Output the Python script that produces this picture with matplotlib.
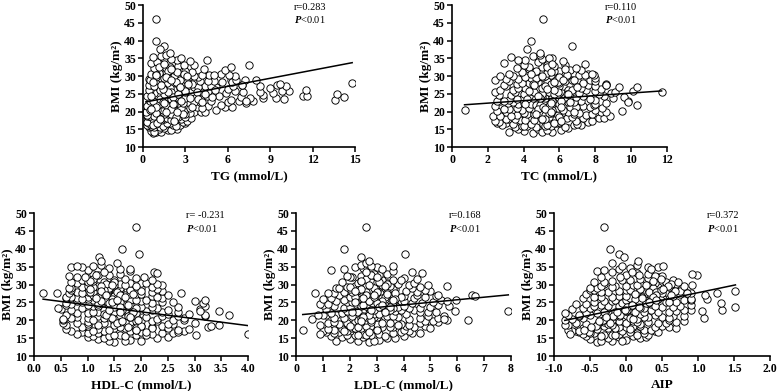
import numpy as np
import matplotlib
matplotlib.use("Agg")
import matplotlib.pyplot as plt
from matplotlib.ticker import FormatStrFormatter

plt.rcParams['font.family'] = ['Liberation Serif', 'DejaVu Serif']
plt.rcParams['font.weight'] = 'bold'
plt.rcParams['axes.labelweight'] = 'bold'
plt.rcParams['axes.unicode_minus'] = False
plt.rcParams['mathtext.fontset'] = 'custom'
plt.rcParams['mathtext.rm'] = 'Liberation Serif'
plt.rcParams['mathtext.it'] = 'Liberation Serif:italic'

# BMI des sujets (meme cohorte pour les 5 panneaux)
bmi = [14.0, 14.2, 14.1, 14.5, 14.8, 15.0, 15.2, 14.3, 15.4, 14.9,
       15.6, 16.0, 16.3, 15.8, 16.7, 16.1, 15.5, 16.9, 16.4, 15.9,
       16.2, 16.8, 15.7, 16.5, 17.0, 16.6, 15.9, 16.0, 16.4, 16.9,
       17.1, 17.5, 17.9, 18.2, 17.3, 18.4, 17.7, 18.0, 17.2, 18.3,
       17.6, 18.1, 17.4, 18.5, 17.8, 17.0, 18.2, 17.5, 18.4, 17.9,
       18.6, 19.0, 19.4, 19.8, 18.9, 19.2, 19.6, 18.7, 19.9, 19.3,
       19.1, 18.8, 19.5, 19.7, 20.0, 18.6, 19.2, 19.9, 19.0, 19.4,
       20.1, 20.5, 20.9, 21.3, 20.3, 20.7, 21.1, 21.5, 20.2, 20.8,
       20.4, 21.0, 21.4, 20.6, 21.2, 20.0, 20.9, 21.3, 20.5, 21.1,
       21.6, 22.0, 22.4, 22.8, 21.8, 22.2, 22.6, 23.0, 21.7, 22.5,
       22.1, 22.9, 21.9, 22.3, 22.7, 21.5, 22.6, 23.0, 22.2, 22.4,
       23.1, 23.5, 23.9, 24.3, 23.3, 23.7, 24.1, 24.5, 23.2, 23.8,
       23.4, 24.0, 24.4, 23.6, 24.2, 23.0, 23.9, 24.3, 23.5, 24.1,
       24.6, 25.0, 25.4, 25.8, 24.8, 25.2, 25.6, 26.0, 24.7, 25.3,
       24.9, 25.5, 25.9, 25.1, 25.7, 24.5, 25.4, 25.8, 25.0, 25.6,
       26.1, 26.5, 26.9, 27.3, 26.3, 26.7, 27.1, 27.5, 26.2, 26.8,
       26.4, 27.0, 27.4, 26.6, 27.2, 26.0, 26.9, 27.3, 26.5, 27.1,
       27.6, 28.0, 28.4, 28.8, 27.8, 28.2, 28.6, 29.0, 27.7, 28.3,
       27.9, 28.5, 28.9, 28.1, 28.7, 27.5, 28.4, 28.8, 28.0, 28.6,
       29.1, 29.5, 29.9, 30.3, 29.3, 29.7, 30.1, 30.5, 29.2, 29.8,
       29.4, 30.0, 30.4, 29.6, 30.2, 29.0, 29.9, 30.3, 29.5, 30.1,
       30.6, 31.0, 31.4, 31.8, 30.8, 31.2, 31.6, 32.0, 30.7, 31.3,
       32.2, 32.6, 33.0, 33.4, 32.4, 32.8, 33.2, 33.8, 32.3, 33.0,
       34.0, 34.5, 35.0, 35.3, 34.2, 34.8, 35.5, 36.0, 34.4, 35.2,
       46.0, 40.0, 38.4, 37.6, 36.5, 20.3, 27.5, 22.7, 25.5, 16.2,
       # sujets supplementaires (centre du nuage)
       19.5, 21.8, 24.2, 26.6, 29.0, 31.5, 17.8, 23.0, 25.4, 27.8,
       20.6, 23.0, 25.4, 27.8, 30.2, 32.6, 18.4, 21.2, 26.0, 28.4,
       16.8, 19.2, 22.4, 24.8, 27.2, 29.6, 31.0, 20.0, 23.6, 26.2,
       18.0, 21.4, 23.8, 26.4, 28.8, 30.6, 33.4, 22.2, 25.0, 27.4,
       17.4, 20.8, 22.8, 25.8, 28.2, 30.0, 32.0, 19.8, 24.4, 27.0]

tg = [0.7, 0.9, 1.3, 0.6, 1.8, 2.4, 1.1, 0.8, 1.5, 2.0,
      0.4, 1.0, 2.6, 0.5, 1.6, 2.1, 0.8, 3.0, 1.3, 0.6,
      0.3, 1.9, 1.2, 0.9, 2.8, 0.5, 1.4, 2.3, 0.7, 1.7,
      0.3, 0.8, 1.5, 2.2, 3.1, 0.6, 1.1, 2.7, 0.4, 1.9,
      1.3, 3.4, 0.5, 2.5, 0.9, 0.3, 1.7, 2.0, 3.0, 0.7,
      0.4, 1.2, 2.3, 3.6, 0.7, 1.8, 2.9, 0.3, 4.1, 1.5,
      1.0, 0.5, 2.6, 3.3, 4.4, 0.8, 2.0, 1.4, 0.3, 3.0,
      0.3, 1.1, 2.4, 3.8, 5.2, 0.6, 1.7, 4.6, 2.9, 0.9,
      1.4, 3.3, 5.8, 0.5, 2.1, 0.2, 4.2, 6.3, 1.0, 2.7,
      0.4, 1.3, 2.5, 4.0, 5.5, 0.8, 3.2, 6.8, 1.9, 7.3,
      2.2, 4.8, 0.6, 1.6, 3.6, 0.3, 6.0, 7.8, 1.1, 2.8,
      0.5, 1.5, 3.0, 4.5, 6.2, 9.4, 2.3, 11.3, 13.6, 7.6,
      1.2, 14.2, 5.4, 2.0, 6.9, 7.3, 8.5, 11.6, 10.0, 4.9,
      0.6, 1.8, 3.4, 4.6, 13.75, 9.2, 7.1, 11.5, 8.5, 5.9,
      2.4, 4.2, 10.3, 0.8, 6.5, 0.3, 3.0, 9.8, 1.5, 8.3,
      0.5, 1.7, 2.9, 4.4, 6.0, 9.0, 10.1, 7.0, 2.2, 3.6,
      1.2, 5.2, 9.5, 2.6, 8.3, 0.4, 3.9, 6.4, 1.9, 4.8,
      0.6, 14.8, 2.8, 6.2, 3.5, 0.9, 5.0, 8.0, 9.7, 6.3,
      1.1, 4.0, 6.6, 2.4, 3.1, 0.4, 5.6, 7.2, 1.7, 4.6,
      0.7, 1.9, 3.3, 4.7, 1.2, 2.5, 6.5, 5.5, 0.4, 3.9,
      1.5, 2.9, 5.0, 0.9, 4.2, 0.5, 2.2, 6.1, 1.8, 3.6,
      0.6, 1.6, 2.7, 5.8, 1.1, 3.5, 2.2, 4.3, 0.9, 3.0,
      0.8, 1.9, 7.5, 1.3, 6.2, 2.5, 3.6, 0.6, 1.6, 2.9,
      1.0, 2.4, 1.5, 0.7, 3.3, 2.0, 1.3, 1.6, 4.5, 2.7,
      0.9, 0.9, 1.5, 1.2, 1.9, 0.5, 7.0, 1.4, 2.0, 0.7,
      0.9, 1.6, 2.1, 1.4, 2.6, 1.8, 1.2, 2.7, 3.8, 1.0,
      2.0, 0.7, 1.8, 3.2, 0.9, 1.1, 2.3, 3.5, 1.2, 2.3,
      1.0, 2.8, 1.5, 2.5, 0.8, 1.6, 2.4, 1.6, 3.9, 5.1,
      1.2, 0.9, 3.3, 1.4, 2.0, 2.9, 1.5, 2.1, 4.4, 1.3,
      2.2, 0.6, 4.2, 3.0, 0.7, 3.1, 2.0, 2.4, 0.6, 2.6]

tc = [4.5, 3.2, 5.6, 4.0, 6.1, 4.8, 3.7, 5.0, 6.5, 5.3,
      3.5, 4.2, 6.8, 5.5, 3.0, 7.2, 4.7, 6.0, 5.1, 3.9,
      2.8, 5.8, 6.3, 4.4, 7.6, 3.4, 5.2, 4.0, 7.0, 2.5,
      2.6, 3.8, 5.0, 6.4, 7.8, 4.3, 5.7, 3.1, 6.9, 8.2,
      4.6, 7.3, 2.4, 5.4, 3.5, 6.0, 8.5, 4.1, 6.7, 3.0,
      2.3, 3.6, 4.9, 6.2, 7.5, 4.2, 5.5, 8.8, 3.0, 6.8,
      5.9, 2.7, 4.0, 7.1, 8.3, 3.3, 4.6, 6.5, 5.2, 7.8,
      2.5, 3.9, 5.3, 6.6, 8.0, 4.5, 5.9, 7.3, 9.5, 3.2,
      6.2, 4.3, 7.7, 2.9, 5.0, 8.6, 3.6, 6.9, 5.6, 8.4,
      2.4, 3.7, 5.1, 6.5, 7.9, 4.4, 5.8, 7.2, 10.3, 3.1,
      6.0, 9.8, 4.7, 8.6, 3.4, 5.4, 6.8, 2.7, 8.0, 4.0,
      2.5, 3.9, 5.2, 6.6, 8.0, 4.5, 5.9, 7.3, 3.2, 9.0,
      6.2, 9.6, 4.3, 7.7, 5.0, 2.9, 5.6, 8.5, 3.6, 6.9,
      2.6, 4.0, 5.4, 6.8, 8.2, 4.7, 6.1, 7.5, 3.3, 8.9,
      5.7, 3.5, 10.1, 7.1, 4.4, 6.4, 2.4, 8.0, 5.0, 9.1,
      2.7, 4.1, 5.5, 6.9, 8.3, 4.8, 6.2, 7.6, 3.4, 9.3,
      5.8, 10.3, 4.4, 7.2, 3.0, 6.5, 5.1, 8.0, 3.7, 6.0,
      2.9, 4.3, 5.7, 7.0, 8.6, 5.0, 6.3, 7.7, 3.6, 4.8,
      6.0, 3.2, 2.4, 7.3, 5.3, 8.6, 4.6, 6.7, 3.9, 8.0,
      3.0, 4.4, 5.8, 7.1, 8.0, 5.1, 6.4, 7.6, 3.7, 4.8,
      6.0, 3.4, 7.4, 4.1, 5.5, 6.8, 2.7, 7.9, 4.7, 5.2,
      3.2, 4.6, 6.0, 7.2, 5.3, 3.9, 6.6, 4.3, 7.8, 5.7,
      3.6, 5.0, 6.3, 7.4, 4.3, 5.7, 4.0, 2.9, 6.9, 5.3,
      4.8, 4.1, 5.6, 3.3, 6.2, 5.0, 4.5, 4.9, 3.7, 5.4,
      5.1, 4.4, 6.7, 4.2, 4.9, 0.7, 8.6, 9.8, 11.7, 5.3,
      5.4, 4.9, 6.3, 5.0, 5.8, 4.7, 5.2, 6.1, 4.6, 5.5,
      4.8, 5.6, 5.9, 4.5, 6.4, 5.3, 6.0, 5.1, 6.7, 5.9,
      5.7, 4.7, 5.5, 6.4, 5.2, 6.0, 5.5, 6.8, 4.2, 5.7,
      5.0, 6.1, 4.9, 5.3, 6.2, 4.4, 5.6, 4.1, 6.5, 4.6,
      6.1, 5.2, 6.6, 4.3, 5.7, 5.0, 6.3, 5.5, 4.8, 7.0]

hdl = [1.5, 1.4, 2.0, 1.8, 1.2, 2.3, 1.0, 1.7, 2.5, 1.3,
       1.1, 1.6, 2.6, 1.9, 0.9, 2.2, 1.4, 2.8, 1.2, 3.02,
       0.8, 2.0, 1.7, 2.4, 1.3, 2.7, 2.1, 1.5, 1.0, 1.8,
       0.7, 1.2, 1.7, 2.2, 2.7, 1.0, 1.5, 3.25, 1.9, 2.4,
       2.9, 0.9, 1.4, 2.0, 2.5, 1.1, 1.6, 0.6, 3.3, 2.2,
       0.6, 1.0, 1.5, 2.0, 2.6, 1.3, 1.8, 3.45, 2.3, 3.0,
       0.8, 1.2, 1.7, 2.2, 2.8, 1.5, 0.55, 1.9, 2.5, 1.0,
       0.55, 1.0, 1.4, 1.9, 2.3, 2.8, 1.2, 1.7, 2.6, 0.8,
       1.5, 2.1, 3.65, 0.7, 2.4, 1.1, 1.8, 2.7, 1.3, 3.2,
       0.6, 1.0, 1.5, 2.0, 2.5, 1.2, 1.7, 2.2, 2.9, 3.45,
       0.8, 1.3, 1.9, 2.4, 1.6, 3.2, 2.1, 0.7, 1.1, 2.7,
       0.5, 0.9, 1.4, 1.8, 2.3, 2.7, 1.1, 1.6, 3.1, 2.0,
       0.45, 1.2, 1.7, 2.2, 0.6, 2.5, 1.5, 1.0, 1.9, 3.2,
       0.7, 0.9, 1.3, 1.8, 2.2, 2.6, 1.1, 1.6, 3.15, 2.0,
       0.6, 1.4, 1.0, 2.4, 1.9, 1.2, 0.8, 2.1, 1.6, 3.2,
       0.6, 1.0, 1.5, 1.9, 2.4, 1.2, 1.7, 2.75, 0.8, 2.2,
       0.7, 1.3, 1.8, 2.3, 1.1, 0.9, 1.5, 2.0, 0.6, 2.5,
       0.65, 1.0, 1.4, 1.8, 2.2, 1.2, 1.6, 2.0, 0.43, 2.4,
       0.8, 1.2, 1.6, 2.0, 1.4, 0.9, 1.8, 2.3, 1.1, 0.7,
       0.7, 1.0, 1.4, 1.8, 2.2, 1.2, 1.6, 2.0, 0.9, 2.4,
       1.1, 1.5, 0.8, 1.9, 1.3, 0.65, 1.7, 2.1, 1.0, 2.3,
       0.7, 1.1, 1.5, 1.9, 1.3, 0.9, 1.7, 2.05, 1.0, 2.2,
       0.8, 1.2, 1.6, 2.25, 1.0, 1.4, 2.3, 1.8, 0.65, 1.1,
       1.0, 1.4, 0.7, 1.1, 1.6, 0.9, 1.25, 1.55, 1.8, 0.8,
       1.9, 1.65, 1.97, 1.22, 1.25, 0.55, 0.17, 3.1, 3.0, 4.0,
       1.6, 1.3, 1.5, 1.2, 1.4, 1.1, 1.9, 1.7, 1.35, 1.55,
       1.45, 1.65, 1.25, 1.05, 1.35, 1.15, 2.0, 1.75, 1.45, 1.3,
       2.1, 1.55, 1.85, 1.4, 1.6, 1.25, 1.05, 1.95, 1.5, 1.15,
       1.75, 1.35, 1.6, 1.7, 1.05, 1.5, 1.3, 1.6, 1.45, 1.85,
       1.9, 1.8, 1.4, 1.55, 1.25, 1.45, 0.95, 1.65, 1.75, 1.35]

ldl = [2.7, 1.5, 2.3, 3.1, 2.0, 3.4, 1.7, 2.9, 2.5, 3.7,
       1.3, 2.2, 3.6, 2.8, 1.6, 3.1, 4.0, 2.0, 4.3, 1.9,
       2.5, 1.1, 3.3, 4.6, 1.9, 3.9, 2.3, 2.6, 1.4, 4.2,
       1.0, 1.7, 2.4, 3.2, 4.0, 4.8, 2.1, 3.6, 1.4, 2.8,
       3.0, 4.4, 0.25, 2.6, 5.0, 1.8, 3.5, 1.2, 4.1, 2.2,
       0.9, 1.6, 2.4, 3.1, 3.9, 4.6, 5.3, 2.0, 2.8, 1.2,
       3.5, 4.2, 1.4, 5.1, 2.6, 3.8, 1.9, 4.8, 3.0, 2.2,
       6.4, 1.8, 2.6, 3.4, 4.2, 5.3, 5.5, 1.1, 2.3, 3.0,
       0.6, 3.8, 1.5, 4.6, 2.1, 5.6, 2.9, 3.6, 1.4, 4.9,
       1.0, 1.7, 2.5, 3.3, 4.1, 4.9, 5.9, 2.1, 2.9, 3.7,
       1.3, 4.4, 2.7, 5.2, 3.4, 0.8, 1.9, 3.9, 4.6, 2.3,
       1.1, 1.8, 2.6, 3.4, 4.2, 5.0, 5.7, 2.2, 3.0, 3.8,
       4.6, 1.4, 3.2, 2.0, 5.3, 2.8, 4.0, 1.0, 3.6, 2.4,
       1.2, 1.9, 2.7, 3.5, 4.3, 5.1, 5.95, 2.3, 3.1, 3.9,
       4.7, 1.5, 3.3, 2.1, 5.4, 0.9, 4.0, 2.5, 3.6, 1.8,
       1.3, 2.0, 2.8, 3.6, 4.4, 5.2, 6.55, 2.4, 3.2, 4.0,
       4.8, 1.6, 3.4, 2.2, 5.3, 1.0, 6.65, 2.6, 3.9, 4.5,
       1.4, 2.1, 2.9, 3.7, 4.5, 5.0, 2.5, 3.3, 0.7, 4.1,
       1.8, 3.0, 4.3, 2.4, 3.6, 1.2, 4.8, 2.0, 3.4, 2.7,
       1.5, 2.2, 3.0, 3.8, 4.6, 5.6, 2.6, 3.4, 1.9, 4.2,
       2.0, 3.2, 4.4, 2.6, 3.8, 1.6, 4.9, 2.3, 3.5, 2.9,
       1.7, 2.4, 3.2, 4.0, 2.8, 3.6, 4.5, 2.1, 3.0, 3.9,
       2.0, 2.7, 3.4, 4.3, 2.4, 3.1, 4.7, 3.6, 1.9, 2.9,
       1.3, 2.5, 3.0, 3.6, 1.8, 2.2, 2.4, 2.6, 3.2, 2.8,
       2.6, 1.8, 4.05, 2.4, 2.7, 5.5, 3.7, 7.9, 5.6, 0.9,
       2.8, 3.1, 2.5, 3.3, 2.9, 2.6, 2.2, 3.5, 2.7, 3.0,
       2.4, 2.9, 3.2, 2.6, 3.4, 2.8, 2.0, 2.5, 3.7, 2.3,
       2.7, 3.2, 2.1, 3.0, 2.6, 3.3, 2.4, 2.8, 3.1, 2.5,
       2.3, 2.7, 3.5, 2.9, 2.4, 3.1, 2.6, 3.3, 2.2, 3.4,
       3.0, 2.5, 2.8, 3.6, 2.2, 2.7, 3.0, 2.4, 3.2, 2.9]

aip = [-0.4, -0.2, -0.35, 0.0, -0.5, 0.2, -0.1, -0.05, 0.28, -0.25,
       -0.55, -0.3, 0.15, 0.3, -0.65, -0.1, 0.1, 0.4, -0.45, -0.2,
       -0.6, 0.05, -0.35, 0.25, -0.7, 0.45, -0.15, 0.15, -0.5, -0.05,
       -0.75, -0.5, -0.25, 0.0, 0.25, 0.5, -0.6, -0.1, 0.35, 0.1,
       -0.4, 0.6, -0.8, 0.2, -0.15, -0.65, 0.4, 0.05, -0.3, 0.7,
       -0.8, -0.55, -0.3, -0.05, 0.2, 0.45, 0.7, -0.2, 0.1, 0.55,
       -0.7, -0.4, 0.3, -0.1, 0.6, -0.85, 0.0, 0.8, -0.25, 0.15,
       -0.85, -0.6, -0.35, -0.1, 0.15, 1.08, 0.65, 0.4, -0.2, 0.3,
       -0.75, 0.5, -0.5, 0.05, 0.8, -0.3, 0.25, -0.15, 0.6, -0.65,
       -0.8, -0.55, -0.3, -0.05, 0.2, 0.45, 0.7, 0.9, -0.2, 0.1,
       -0.85, 0.35, -0.4, 0.6, 1.05, -0.65, 0.0, 0.8, -0.15, 0.25,
       -0.75, -0.5, -0.25, 0.0, 0.25, 0.5, 0.75, 0.35, -0.1, 1.52,
       -0.6, 0.4, -0.35, 0.65, 0.1, 1.33, -0.1, 0.9, 0.2, -0.45,
       -0.7, -0.45, -0.2, 0.05, 0.3, 0.55, 0.8, 1.12, -0.05, 0.2,
       1.32, -0.3, 0.45, 0.7, 0.0, -0.55, 0.3, -0.15, 0.6, 0.9,
       -0.6, -0.35, -0.1, 0.15, 0.4, 0.65, 1.1, 0.85, 0.05, 0.5,
       -0.45, 0.25, 0.75, -0.2, 0.55, 0.9, 0.0, -0.55, 0.35, 0.6,
       1.27, -0.25, 0.0, 0.25, 0.5, 0.75, -0.5, 0.1, 0.9, 1.52,
       -0.35, 0.4, 0.65, -0.1, 0.2, 0.85, -0.45, 0.3, 0.55, 0.05,
       -0.4, -0.15, 0.1, 0.35, 0.6, 0.8, -0.3, 0.2, 0.45, 0.92,
       -0.2, 0.3, 0.55, 0.0, 0.7, -0.5, 0.15, 0.4, -0.35, 0.6,
       -0.45, -0.2, 0.05, 0.3, 0.55, -0.05, 0.2, 0.45, -0.3, 0.65,
       -0.35, 0.0, 0.3, -0.2, 0.5, 0.98, 0.15, -0.4, 0.4, 0.92,
       -0.3, 0.05, 0.45, 0.52, -0.1, 0.3, 0.15, -0.2, 0.35, -0.05,
       -0.3, -0.22, -0.1, -0.03, 0.16, 0.1, 0.5, 0.0, 0.3, -0.78,
       -0.38, -0.12, 0.08, 0.22, 0.38, 0.48, -0.48, -0.02, 0.18, 0.32,
       -0.28, 0.02, 0.28, 0.42, 0.62, 0.18, -0.42, -0.18, 0.12, 0.48,
       -0.52, -0.22, 0.12, 0.28, 0.42, 0.58, 0.38, -0.32, 0.02, 0.22,
       -0.48, -0.08, 0.18, 0.38, 0.52, 0.72, 0.08, -0.12, 0.32, 0.12,
       -0.58, -0.28, -0.02, 0.42, 0.68, 0.28, -0.08, -0.38, 0.08, 0.62]

# droites de regression
slopes = [0.757, 0.3545, -1.932, 0.719, 4.19]
intercepts = [22.55, 21.65, 26.23, 21.42, 23.52]
r_labels = ["r=0.283", "r=0.110", "r= -0.231", "r=0.168", "r=0.372"]
x_labels = ["TG (mmol/L)", "TC (mmol/L)", "HDL-C (mmol/L)", "LDL-C (mmol/L)", "AIP"]
x_ticks = [np.arange(0, 16, 3), np.arange(0, 13, 2), np.arange(0, 4.01, 0.5),
           np.arange(0, 9, 1), np.arange(-1, 2.01, 0.5)]
x_series = [tg, tc, hdl, ldl, aip]

# position des axes (fraction de la figure)
rects = [[0.1838, 0.6240, 0.2725, 0.3632],
         [0.5810, 0.6240, 0.2763, 0.3632],
         [0.0437, 0.0895, 0.2751, 0.3657],
         [0.3805, 0.0895, 0.2763, 0.3657],
         [0.7121, 0.0895, 0.2776, 0.3657]]

fig = plt.figure(figsize=(7.78, 3.91), dpi=100)

for i in range(5):
    ax = fig.add_axes(rects[i])
    x = np.array(x_series[i])
    y = np.array(bmi)
    ax.scatter(x, y, s=28, facecolors='white', edgecolors='black', linewidths=0.65, zorder=2)
    xl = np.array([x.min(), x.max()])
    ax.plot(xl, intercepts[i] + slopes[i] * xl, color='black', lw=1.1, zorder=3)

    ax.set_xlim(x_ticks[i][0], x_ticks[i][-1])
    ax.set_ylim(10, 50)
    ax.set_xticks(x_ticks[i])
    ax.set_yticks(np.arange(10, 51, 5))
    if i in (2, 4):
        ax.xaxis.set_major_formatter(FormatStrFormatter('%.1f'))
    ax.spines['top'].set_visible(False)
    ax.spines['right'].set_visible(False)
    ax.spines['left'].set_linewidth(1.2)
    ax.spines['bottom'].set_linewidth(1.2)
    ax.tick_params(direction='out', length=3.5, width=1.1, labelsize=8.5, pad=1.5)
    ax.set_xlabel(x_labels[i], fontsize=9.5, labelpad=3)
    ax.set_ylabel("BMI (kg/m²)", fontsize=9.5, labelpad=1)

    ax.text(0.71, 0.985, r_labels[i], transform=ax.transAxes, fontsize=7.5,
            fontweight='normal', ha='left', va='center')
    ax.text(0.71, 0.895, r"$\mathit{P}$<0.01", transform=ax.transAxes, fontsize=7.5,
            fontweight='normal', ha='left', va='center')

plt.savefig("out.png", dpi=100)
